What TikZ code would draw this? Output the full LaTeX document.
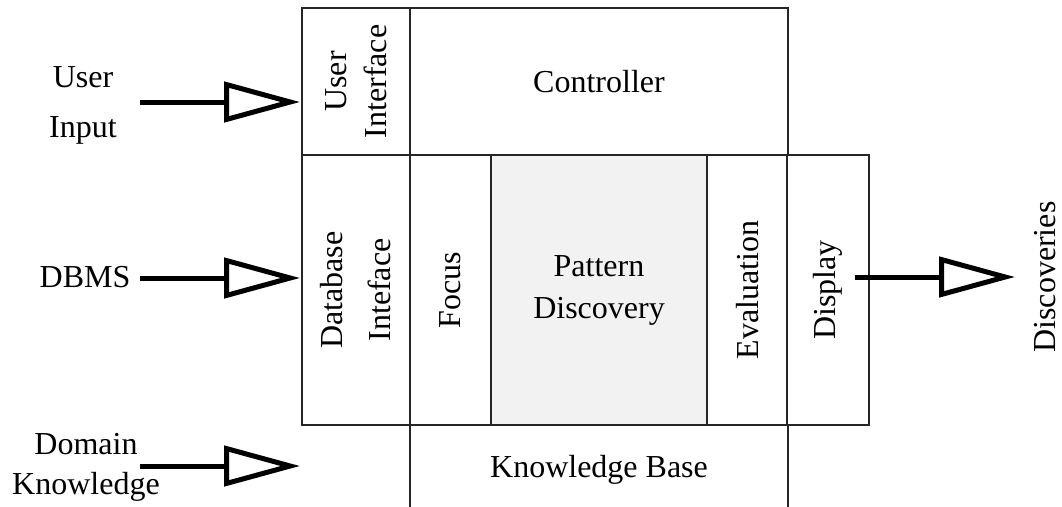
\documentclass[tikz,border=0pt]{standalone}
\usepackage{fontspec}
\setmainfont{Liberation Serif}
\usetikzlibrary{arrows.meta}
\definecolor{pdgray}{HTML}{F2F2F2}
\begin{document}
\begin{tikzpicture}[x=1pt,y=-1pt,
  box/.style={draw=black!85, line width=1.5pt, inner sep=0pt, align=center,
              font=\fontsize{32}{40}\selectfont},
  lbl/.style={inner sep=0pt, align=center, font=\fontsize{32}{40}\selectfont},
  bigarrow/.style={line width=5pt, -{Triangle[open, length=76pt, width=40pt]}}]
\useasboundingbox (0,0) rectangle (1062,506);
\clip (0,0) rectangle (1062,506);
% boxes
\node[box, rotate=90, minimum width=147pt, minimum height=108pt] (ui) at (356,81.5) {User\\Interface};
\node[box, minimum width=378pt, minimum height=147pt] (ctrl) at (599,81.5) {Controller};
\node[box, rotate=90, minimum width=270pt, minimum height=108pt, font=\fontsize{32}{48}\selectfont] (db) at (356,290) {Database\\Inteface};
\node[box, rotate=90, minimum width=270pt, minimum height=81pt] (focus) at (450.5,290) {Focus};
\node[box, fill=pdgray, minimum width=216pt, minimum height=270pt, font=\fontsize{32}{42}\selectfont] (pd) at (599,290) {Pattern\\Discovery};
\node[box, rotate=90, minimum width=270pt, minimum height=80pt] (eval) at (747.5,290) {Evaluation};
\node[box, rotate=90, minimum width=270pt, minimum height=82pt] (disp) at (828,290) {Display};
\node[box, minimum width=378pt, minimum height=90pt] (kb) at (599,470) {Knowledge Base};
% outside labels
\node[lbl, font=\fontsize{32}{50}\selectfont] (userin) at (83,105) {User\\Input};
\node[lbl] (dbms) at (85,277) {DBMS};
\node[lbl] (domain) at (86,467) {Domain\\Knowledge};
\node[lbl, rotate=90] (disc) at (1045,277) {Discoveries};
% arrows
\coordinate (a1s) at (140,102); \coordinate (a1e) at (300,102);
\coordinate (a2s) at (140,278); \coordinate (a2e) at (300,278);
\coordinate (a3s) at (140,466); \coordinate (a3e) at (300,466);
\coordinate (a4s) at (855,277); \coordinate (a4e) at (1015,277);
\draw[bigarrow] (a1s) -- (a1e);
\draw[bigarrow] (a2s) -- (a2e);
\draw[bigarrow] (a3s) -- (a3e);
\draw[bigarrow] (a4s) -- (a4e);
\end{tikzpicture}
\end{document}
